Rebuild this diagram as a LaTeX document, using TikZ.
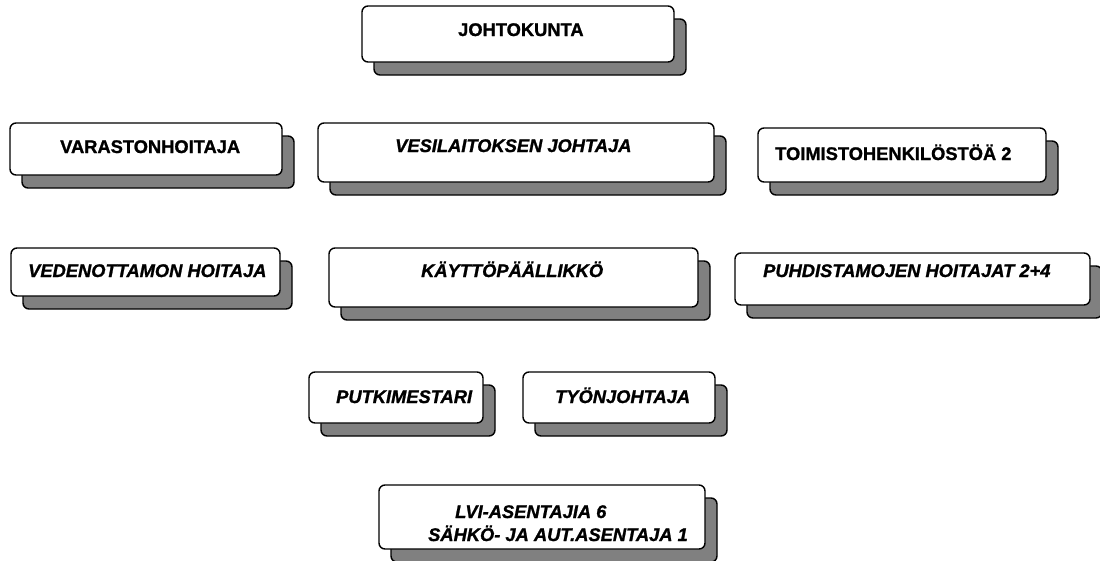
\documentclass[tikz,border=0pt]{standalone}
\usepackage{fontspec}
\setmainfont{Liberation Sans}[BoldFeatures={FakeBold=1.2}, BoldItalicFeatures={FakeBold=1.2}]
\definecolor{varjo}{RGB}{128,128,128}
\tikzset{
  laatikko/.style={draw=black, line width=1.4pt, fill=white, rounded corners=6pt,
    inner sep=0pt,
    preaction={draw=black, fill=varjo, line width=1.4pt,
      transform canvas={xshift=12pt, yshift=-13pt}}},
  teksti/.style={inner sep=0pt, anchor=base west, font=\fontsize{18.3}{23}\selectfont\bfseries},
  kteksti/.style={teksti, font=\fontsize{18.3}{23}\selectfont\bfseries\itshape}
}
\begin{document}
\begin{tikzpicture}[x=1pt, y=-1pt]
        \useasboundingbox (0,0) rectangle (1100,560);

        % Laatikot
        \node[laatikko, minimum width=312, minimum height=56] (johto) at (518,34) {};
        \node[laatikko, minimum width=272, minimum height=52] (varasto) at (146,149) {};
        \node[laatikko, minimum width=396, minimum height=59] (vesi) at (516,152.5) {};
        \node[laatikko, minimum width=288, minimum height=54] (toimisto) at (902,155) {};
        \node[laatikko, minimum width=269, minimum height=48] (vedenotto) at (145.5,272) {};
        \node[laatikko, minimum width=369, minimum height=59] (kaytto) at (513.5,277.5) {};
        \node[laatikko, minimum width=355, minimum height=52] (puhd) at (912.5,279) {};
        \node[laatikko, minimum width=174, minimum height=51] (putki) at (396,397.5) {};
        \node[laatikko, minimum width=192, minimum height=51] (tyon) at (619,397.5) {};
        \node[laatikko, minimum width=326, minimum height=64] (lvi) at (542,517) {};

        % Tekstit
        \node[teksti] (johto-t) at (458,36) {JOHTOKUNTA};
        \node[teksti] (varasto-t) at (60,153) {VARASTONHOITAJA};
        \node[kteksti] (vesi-t) at (395,152) {VESILAITOKSEN JOHTAJA};
        \node[teksti] (toimisto-t) at (775,160) {TOIMISTOHENKILÖSTÖÄ 2};
        \node[kteksti] (vedenotto-t) at (28,277) {VEDENOTTAMON HOITAJA};
        \node[kteksti] (kaytto-t) at (421,277) {KÄYTTÖPÄÄLLIKKÖ};
        \node[kteksti] (puhd-t) at (763,277) {PUHDISTAMOJEN HOITAJAT 2+4};
        \node[kteksti] (putki-t) at (336,403) {PUTKIMESTARI};
        \node[kteksti] (tyon-t) at (555,403) {TYÖNJOHTAJA};
        \node[kteksti] (lvi-t1) at (455,518) {LVI-ASENTAJIA 6};
        \node[kteksti] (lvi-t2) at (428,541) {SÄHKÖ- JA AUT.ASENTAJA 1};
\end{tikzpicture}
\end{document}
